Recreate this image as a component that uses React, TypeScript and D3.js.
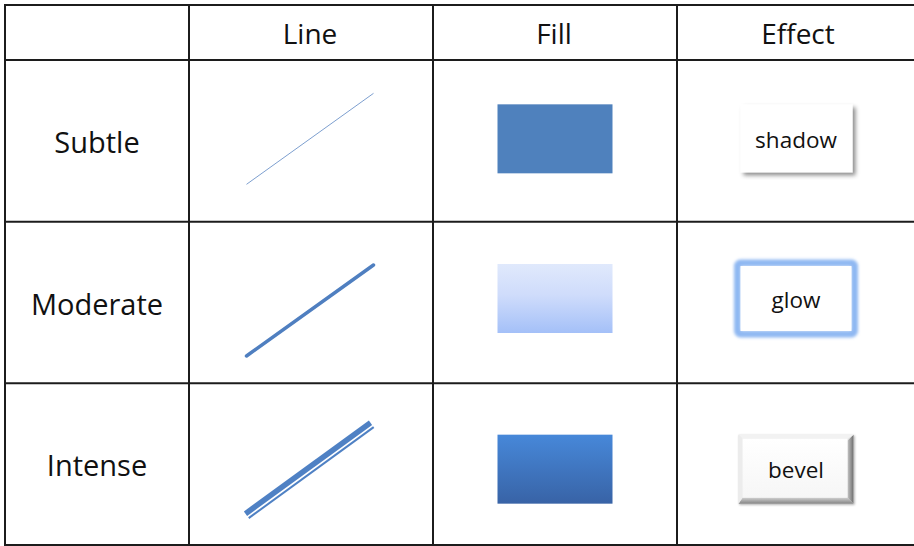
import React from 'react';
import * as d3 from 'd3';

const COLUMNS = ['Line', 'Fill', 'Effect'];
const ROWS = ['Subtle', 'Moderate', 'Intense'];
const EFFECT_LABELS = ['shadow', 'glow', 'bevel'];

const W = 914;
const H = 546;
const FONT = '"Open Sans", "Noto Sans", sans-serif';

// table frame
const left = 5;
const top = 5;
const labelColRight = 189;
const headerBottom = 60;
const tableRight = 921;
const tableBottom = 545;

// hand tweaks: the source slide isn't perfectly centred per row
const markShift = [-2, -4, 5];
const lineShift = [-2, 8, 6];

export default function App() {
  const x = d3.scaleBand<string>().domain(COLUMNS).range([labelColRight, tableRight]);
  const y = d3.scaleBand<string>().domain(ROWS).range([headerBottom, tableBottom]);
  const bw = x.bandwidth();
  const bh = y.bandwidth();

  const lineX = x('Line')!;
  const fillX = x('Fill')!;
  const effX = x('Effect')!;

  const lineDx = 127;
  const lineDy = 91;
  const boxW = 115;
  const boxH = 69;

  const hLines = [top, headerBottom, ...ROWS.map((r) => y(r)! + bh)];
  const vLines = [left, labelColRight, ...COLUMNS.slice(1).map((c) => x(c)!)];

  return (
    <svg
      width={W}
      height={H}
      viewBox={`0 0 ${W} ${H}`}
      style={{ position: 'absolute', left: 0, top: 0, background: '#fff' }}
    >
      <defs>
        <linearGradient id="fillModerate" x1="0" y1="0" x2="0" y2="1">
          <stop offset="0%" stopColor="#e0e9fc" />
          <stop offset="45%" stopColor="#cfdcfb" />
          <stop offset="100%" stopColor="#a4c0f8" />
        </linearGradient>
        <linearGradient id="fillIntense" x1="0" y1="0" x2="0" y2="1">
          <stop offset="0%" stopColor="#4788d9" />
          <stop offset="100%" stopColor="#3863a6" />
        </linearGradient>
        <filter id="shadow" x="-20%" y="-20%" width="150%" height="150%">
          <feDropShadow dx="3" dy="3" stdDeviation="2" floodColor="#000" floodOpacity="0.45" />
        </filter>
        <filter id="glow" x="-20%" y="-30%" width="140%" height="160%">
          <feGaussianBlur stdDeviation="1.6" />
        </filter>
        <filter id="bevelShadow" x="-20%" y="-20%" width="150%" height="150%">
          <feDropShadow dx="1" dy="1" stdDeviation="1" floodColor="#000" floodOpacity="0.3" />
        </filter>
        <linearGradient id="bevelRight" x1="0" y1="0" x2="1" y2="0">
          <stop offset="0%" stopColor="#c4c4c4" />
          <stop offset="100%" stopColor="#6e6e6e" />
        </linearGradient>
        <linearGradient id="bevelBottom" x1="0" y1="0" x2="0" y2="1">
          <stop offset="0%" stopColor="#cfcfcf" />
          <stop offset="100%" stopColor="#858585" />
        </linearGradient>
        <linearGradient id="bevelFace" x1="0" y1="0" x2="0" y2="1">
          <stop offset="0%" stopColor="#ffffff" />
          <stop offset="100%" stopColor="#f6f6f6" />
        </linearGradient>
      </defs>

      {/* headers */}
      {COLUMNS.map((c) => (
        <text
          key={c}
          x={x(c)! + bw / 2 - 1}
          y={44}
          textAnchor="middle"
          fontFamily={FONT}
          fontSize={28}
          fill="#111"
        >
          {c}
        </text>
      ))}

      {ROWS.map((r, i) => {
        const cy = y(r)! + bh / 2;
        const my = cy + markShift[i];
        const ly = cy + lineShift[i];
        const lx0 = lineX + bw / 2 - 1 - lineDx / 2;
        const lx1 = lx0 + lineDx;
        const ly0 = ly + lineDy / 2;
        const ly1 = ly0 - lineDy;
        const bx = effX + 119 - boxW / 2;
        const by = my - boxH / 2;
        const len = Math.hypot(lineDx, lineDy);
        const px = (lineDy / len) * 5.5;
        const py = (lineDx / len) * 5.5;
        return (
          <g key={r}>
            <text
              x={(left + labelColRight) / 2}
              y={cy + 12}
              textAnchor="middle"
              fontFamily={FONT}
              fontSize={29}
              fill="#111"
            >
              {r}
            </text>

            {/* Line column */}
            {i === 0 && (
              <line x1={lx0} y1={ly0} x2={lx1} y2={ly1} stroke="#7d9fcf" strokeWidth={1} />
            )}
            {i === 1 && (
              <line
                x1={lx0}
                y1={ly0}
                x2={lx1}
                y2={ly1}
                stroke="#4f7fc0"
                strokeWidth={3.5}
                strokeLinecap="round"
              />
            )}
            {i === 2 && (
              <g>
                <line x1={lx0 - 1} y1={ly0 - 2} x2={lx1 - 3} y2={ly1 - 2} stroke="#4f81c4" strokeWidth={5.5} />
                <line
                  x1={lx0 - 1 + px}
                  y1={ly0 - 2 + py}
                  x2={lx1 - 3 + px}
                  y2={ly1 - 2 + py}
                  stroke="#4f81c4"
                  strokeWidth={2}
                />
              </g>
            )}

            {/* Fill column */}
            <rect
              x={fillX + bw / 2 - boxW / 2}
              y={by}
              width={boxW}
              height={boxH}
              fill={i === 0 ? '#4f81bd' : i === 1 ? 'url(#fillModerate)' : 'url(#fillIntense)'}
            />

            {/* Effect column */}
            {i === 0 && (
              <rect x={bx + 2} y={by} width={boxW - 3} height={boxH - 1} fill="#fff" filter="url(#shadow)" />
            )}
            {i === 1 && (
              <g>
                <rect
                  x={bx - 1}
                  y={by - 1}
                  width={boxW + 2}
                  height={boxH + 2}
                  fill="none"
                  stroke="#8fb8f2"
                  strokeWidth={7}
                  rx={3}
                  filter="url(#glow)"
                />
                <rect x={bx + 2} y={by + 2} width={boxW - 4} height={boxH - 4} fill="#fff" />
              </g>
            )}
            {i === 2 && (
              <g filter="url(#bevelShadow)">
                <rect x={bx} y={by} width={boxW} height={boxH} fill="#e6e6e6" />
                <polygon
                  points={`${bx + boxW},${by} ${bx + boxW},${by + boxH} ${bx + boxW - 6},${by + boxH - 6} ${bx + boxW - 6},${by + 6}`}
                  fill="url(#bevelRight)"
                />
                <polygon
                  points={`${bx},${by + boxH} ${bx + boxW},${by + boxH} ${bx + boxW - 6},${by + boxH - 6} ${bx + 4},${by + boxH - 6}`}
                  fill="url(#bevelBottom)"
                />
                <polygon
                  points={`${bx},${by} ${bx + boxW},${by} ${bx + boxW - 6},${by + 4} ${bx + 4},${by + 4}`}
                  fill="#f2f2f2"
                />
                <polygon
                  points={`${bx},${by} ${bx + 4},${by + 4} ${bx + 4},${by + boxH - 6} ${bx},${by + boxH}`}
                  fill="#ececec"
                />
                <rect x={bx + 4} y={by + 4} width={boxW - 10} height={boxH - 10} fill="url(#bevelFace)" />
              </g>
            )}
            <text
              x={bx + boxW / 2}
              y={my + 9}
              textAnchor="middle"
              fontFamily={FONT}
              fontSize={22.5}
              fill="#111"
            >
              {EFFECT_LABELS[i]}
            </text>
          </g>
        );
      })}

      {/* grid */}
      {hLines.map((v, i) => (
        <line key={`h${i}`} x1={left - 1} x2={W} y1={v} y2={v} stroke="#1c1c1c" strokeWidth={2} />
      ))}
      {vLines.map((v, i) => (
        <line key={`v${i}`} x1={v} x2={v} y1={top} y2={tableBottom} stroke="#1c1c1c" strokeWidth={2} />
      ))}
    </svg>
  );
}
